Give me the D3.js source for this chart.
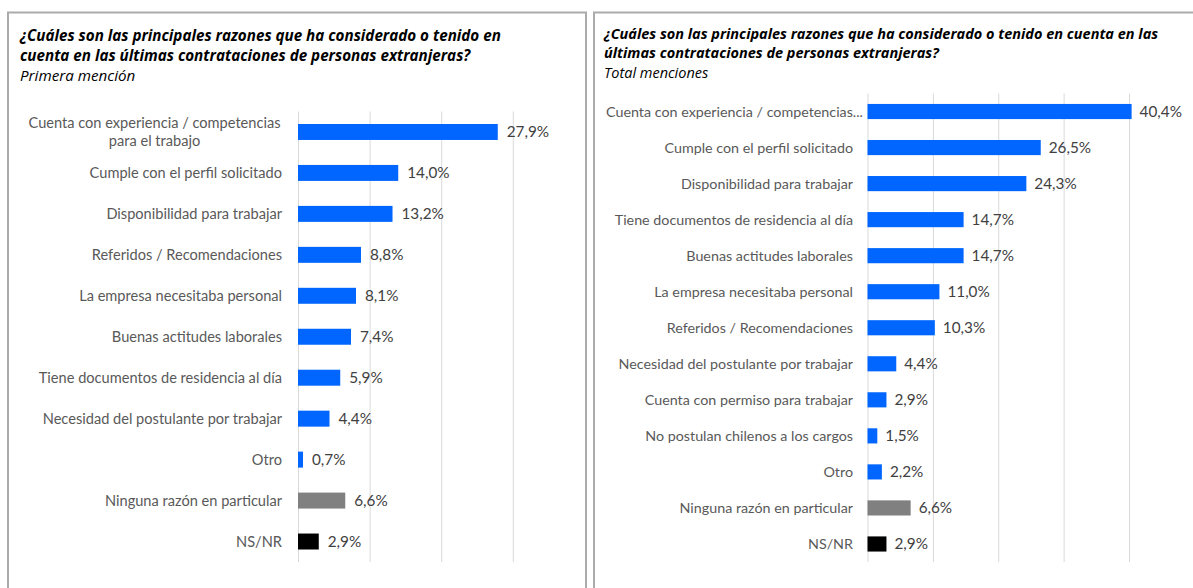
<!DOCTYPE html>
<html><head><meta charset="utf-8">
<script src="https://cdn.jsdelivr.net/npm/d3@7"></script>
<style>body{margin:0;background:#fff;} svg{display:block;}</style>
</head><body>
<svg id="c" width="1193" height="588"></svg>
<script>
// ---------- DATA ----------
const leftTitle = ["¿Cuáles son las principales razones que ha considerado o tenido en",
                   "cuenta en las últimas contrataciones de personas extranjeras?"];
const leftSubtitle = "Primera mención";
const leftCategories = [
  "Cuenta con experiencia / competencias para el trabajo",
  "Cumple con el perfil solicitado",
  "Disponibilidad para trabajar",
  "Referidos / Recomendaciones",
  "La empresa necesitaba personal",
  "Buenas actitudes laborales",
  "Tiene documentos de residencia al día",
  "Necesidad del postulante por trabajar",
  "Otro",
  "Ninguna razón en particular",
  "NS/NR"
];
const leftValues = [27.9, 14.0, 13.2, 8.8, 8.1, 7.4, 5.9, 4.4, 0.7, 6.6, 2.9];
const leftTicks = [0, 10, 20, 30];

const rightTitle = ["¿Cuáles son las principales razones que ha considerado o tenido en cuenta en las",
                    "últimas contrataciones de personas extranjeras?"];
const rightSubtitle = "Total menciones";
const rightCategories = [
  "Cuenta con experiencia / competencias para el trabajo",
  "Cumple con el perfil solicitado",
  "Disponibilidad para trabajar",
  "Tiene documentos de residencia al día",
  "Buenas actitudes laborales",
  "La empresa necesitaba personal",
  "Referidos / Recomendaciones",
  "Necesidad del postulante por trabajar",
  "Cuenta con permiso para trabajar",
  "No postulan chilenos a los cargos",
  "Otro",
  "Ninguna razón en particular",
  "NS/NR"
];
const rightValues = [40.4, 26.5, 24.3, 14.7, 14.7, 11.0, 10.3, 4.4, 2.9, 1.5, 2.2, 6.6, 2.9];
const rightTicks = [0, 10, 20, 30, 40];

// ---------- STYLE ----------
const FONT = "Lato, 'Open Sans', sans-serif";
const TFONT = "'Open Sans', Lato, sans-serif";
const color = d3.scaleOrdinal()
  .domain(["Ninguna razón en particular", "NS/NR"])
  .range(["#808080", "#000000"])
  .unknown("#0066FF");
const fmt = v => d3.format(".1f")(v).replace(".", ",") + "%";

const svg = d3.select("#c");

// panel frames
svg.append("rect").attr("x", 8).attr("y", 12.5).attr("width", 578).attr("height", 620)
  .attr("fill", "none").attr("stroke", "#ababab").attr("stroke-width", 2);
svg.append("rect").attr("x", 594).attr("y", 12.5).attr("width", 640).attr("height", 620)
  .attr("fill", "none").attr("stroke", "#ababab").attr("stroke-width", 2);

function panel(cfg) {
  const g = svg.append("g");
  cfg.title.forEach((t, i) => {
    g.append("text").attr("x", cfg.titleX).attr("y", cfg.titleY[i])
      .attr("font-family", TFONT).attr("font-weight", "bold").attr("font-style", "italic")
      .attr("font-size", cfg.titleSize).attr("fill", "#000").text(t);
  });
  g.append("text").attr("x", cfg.titleX).attr("y", cfg.titleY[2])
    .attr("font-family", TFONT).attr("font-style", "italic")
    .attr("font-size", cfg.titleSize).attr("fill", "#000").text(cfg.subtitle);

  const x = d3.scaleLinear().domain([0, cfg.ticks[cfg.ticks.length - 1]]).range(cfg.xRange);
  const y = d3.scaleBand().domain(cfg.categories).range(cfg.yRange)
    .paddingInner(cfg.pad).paddingOuter(cfg.pad / 2);

  // vertical gridlines
  const grid = d3.axisBottom(x).tickValues(cfg.ticks)
    .tickSize(-(cfg.yRange[1] - cfg.yRange[0])).tickFormat("");
  const gg = g.append("g").attr("transform", `translate(0,${cfg.yRange[1]})`).call(grid);
  gg.select(".domain").remove();
  gg.selectAll(".tick line").attr("stroke", "#d9d9d9").attr("stroke-width", 1);

  // bars
  g.selectAll("rect.bar").data(cfg.categories).join("rect").attr("class", "bar")
    .attr("x", x(0)).attr("y", d => y(d))
    .attr("width", (d, i) => x(cfg.values[i]) - x(0))
    .attr("height", y.bandwidth())
    .attr("fill", d => color(d));

  // value labels
  g.selectAll("text.val").data(cfg.categories).join("text").attr("class", "val")
    .attr("x", (d, i) => x(cfg.values[i]) + cfg.valGap)
    .attr("y", d => y(d) + y.bandwidth() / 2)
    .attr("dy", "0.36em")
    .attr("font-family", FONT).attr("font-size", cfg.valSize).attr("fill", "#404040")
    .text((d, i) => fmt(cfg.values[i]));

  // category labels
  const yAxis = d3.axisLeft(y).tickSize(0).tickPadding(0);
  const ag = g.append("g").attr("transform", `translate(${cfg.labelRight},0)`).call(yAxis);
  ag.select(".domain").remove();
  ag.selectAll(".tick text").attr("font-family", FONT).attr("font-size", cfg.labelSize)
    .attr("fill", "#595959").attr("dy", "0.36em").attr("text-anchor", "end");
  ag.selectAll(".tick text").each(function (d) {
    const t = d3.select(this);
    const node = this;
    const measure = s => { t.text(s); return node.getComputedTextLength(); };
    if (measure(d) <= cfg.labelMax) return;
    if (cfg.wrap) {
      const words = d.split(" ");
      let line = [], lines = [];
      words.forEach(w => {
        line.push(w);
        if (measure(line.join(" ")) > cfg.labelMax && line.length > 1) {
          line.pop(); lines.push(line.join(" ")); line = [w];
        }
      });
      lines.push(line.join(" "));
      const widths = lines.map(l => measure(l));
      const maxW = d3.max(widths);
      t.text("").attr("dy", null).attr("text-anchor", "middle");
      const lh = cfg.lineHeight;
      lines.forEach((l, i) => {
        t.append("tspan").attr("x", -maxW / 2 - cfg.wrapShift)
          .attr("y", (i - (lines.length - 1) / 2) * lh)
          .attr("dy", "0.36em").text(l);
      });
    } else {
      let s = d;
      while (s.length > 1) {
        s = s.slice(0, -1);
        if (measure(s.trimEnd() + "...") <= cfg.labelMax) break;
      }
      t.attr("x", cfg.truncShift);
    }
  });
}

panel({
  title: leftTitle, subtitle: leftSubtitle, titleX: 20, titleY: [41, 61, 81], titleSize: 15.2,
  categories: leftCategories, values: leftValues, ticks: leftTicks,
  xRange: [298, 512.8], yRange: [111.5, 562], pad: 0.61,
  valGap: 9, valSize: 15.3, labelRight: 282, labelSize: 14.6, labelMax: 262, wrap: true,
  lineHeight: 18.5, wrapShift: 1.5
});

panel({
  title: rightTitle, subtitle: rightSubtitle, titleX: 604, titleY: [39, 58, 78], titleSize: 14.5,
  categories: rightCategories, values: rightValues, ticks: rightTicks,
  xRange: [867.5, 1129], yRange: [93.5, 562], pad: 0.58,
  valGap: 8, valSize: 15.3, labelRight: 853, labelSize: 14.3, labelMax: 262, wrap: false, truncShift: 10
});
</script>
</body></html>
